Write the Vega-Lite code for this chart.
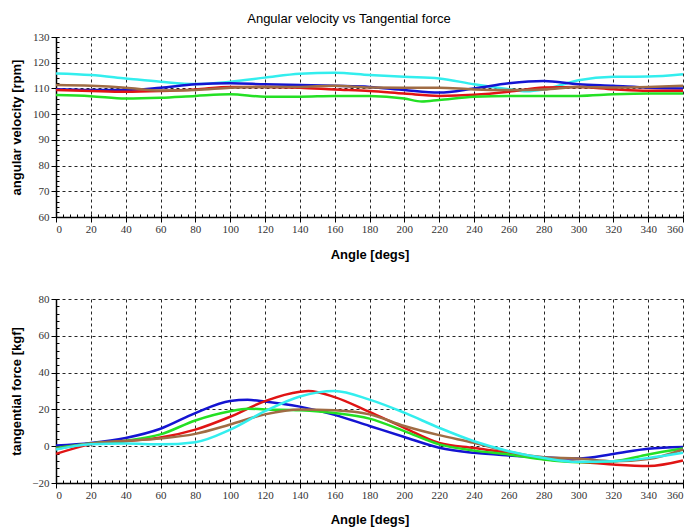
{
  "$schema": "https://vega.github.io/schema/vega-lite/v6.json",
  "padding": {"left": 10, "top": 13, "right": 8, "bottom": 2},
  "background": "white",
  "title": {"text": "Angular velocity vs Tangential force", "font": "Liberation Sans", "fontSize": 13, "fontWeight": "normal", "color": "black", "offset": 5, "anchor": "middle"},
  "spacing": 32,
  "datasets": {
    "vel": [
      {"angle":0,"series":"cyan","v":115.8},{"angle":20,"series":"cyan","v":115.2},{"angle":40,"series":"cyan","v":113.9},{"angle":60,"series":"cyan","v":112.6},{"angle":80,"series":"cyan","v":111.7},{"angle":100,"series":"cyan","v":112.6},{"angle":120,"series":"cyan","v":114.2},{"angle":140,"series":"cyan","v":115.7},{"angle":160,"series":"cyan","v":116.1},{"angle":180,"series":"cyan","v":115.2},{"angle":200,"series":"cyan","v":114.5},{"angle":220,"series":"cyan","v":113.9},{"angle":240,"series":"cyan","v":111.6},{"angle":260,"series":"cyan","v":109.7},{"angle":270,"series":"cyan","v":108.9},{"angle":280,"series":"cyan","v":109.6},{"angle":300,"series":"cyan","v":113.2},{"angle":320,"series":"cyan","v":114.5},{"angle":340,"series":"cyan","v":114.6},{"angle":360,"series":"cyan","v":115.5},
      {"angle":0,"series":"blue","v":109.7},{"angle":20,"series":"blue","v":109.4},{"angle":40,"series":"blue","v":109.4},{"angle":60,"series":"blue","v":110.3},{"angle":80,"series":"blue","v":111.6},{"angle":100,"series":"blue","v":112},{"angle":120,"series":"blue","v":111.6},{"angle":140,"series":"blue","v":111.3},{"angle":160,"series":"blue","v":111},{"angle":180,"series":"blue","v":110.6},{"angle":200,"series":"blue","v":109.4},{"angle":220,"series":"blue","v":108.4},{"angle":240,"series":"blue","v":110},{"angle":260,"series":"blue","v":112},{"angle":280,"series":"blue","v":112.9},{"angle":300,"series":"blue","v":111.6},{"angle":320,"series":"blue","v":111},{"angle":340,"series":"blue","v":110.3},{"angle":360,"series":"blue","v":110},
      {"angle":0,"series":"red","v":109.4},{"angle":20,"series":"red","v":109},{"angle":40,"series":"red","v":108.7},{"angle":60,"series":"red","v":109},{"angle":80,"series":"red","v":109.6},{"angle":100,"series":"red","v":110.6},{"angle":120,"series":"red","v":110.6},{"angle":140,"series":"red","v":110.3},{"angle":160,"series":"red","v":109.6},{"angle":180,"series":"red","v":109},{"angle":200,"series":"red","v":108},{"angle":220,"series":"red","v":107.1},{"angle":240,"series":"red","v":107.5},{"angle":260,"series":"red","v":108.7},{"angle":280,"series":"red","v":110.4},{"angle":300,"series":"red","v":110.6},{"angle":320,"series":"red","v":109.7},{"angle":340,"series":"red","v":109.1},{"angle":360,"series":"red","v":109.1},
      {"angle":0,"series":"brown","v":111.3},{"angle":20,"series":"brown","v":111},{"angle":40,"series":"brown","v":110.3},{"angle":60,"series":"brown","v":109.2},{"angle":80,"series":"brown","v":109.4},{"angle":100,"series":"brown","v":110.3},{"angle":120,"series":"brown","v":110.6},{"angle":140,"series":"brown","v":110.6},{"angle":160,"series":"brown","v":111},{"angle":180,"series":"brown","v":110.4},{"angle":200,"series":"brown","v":110.3},{"angle":220,"series":"brown","v":110.3},{"angle":240,"series":"brown","v":109.6},{"angle":260,"series":"brown","v":109.4},{"angle":280,"series":"brown","v":109.6},{"angle":300,"series":"brown","v":110.6},{"angle":320,"series":"brown","v":110.4},{"angle":340,"series":"brown","v":110.6},{"angle":360,"series":"brown","v":111},
      {"angle":0,"series":"green","v":107.4},{"angle":20,"series":"green","v":107},{"angle":40,"series":"green","v":106.1},{"angle":60,"series":"green","v":106.4},{"angle":80,"series":"green","v":107.1},{"angle":100,"series":"green","v":107.7},{"angle":120,"series":"green","v":106.8},{"angle":140,"series":"green","v":106.8},{"angle":160,"series":"green","v":107.1},{"angle":180,"series":"green","v":107.1},{"angle":200,"series":"green","v":106.1},{"angle":210,"series":"green","v":104.9},{"angle":220,"series":"green","v":105.5},{"angle":240,"series":"green","v":106.8},{"angle":260,"series":"green","v":107.1},{"angle":280,"series":"green","v":107.1},{"angle":300,"series":"green","v":107.1},{"angle":320,"series":"green","v":107.7},{"angle":340,"series":"green","v":108},{"angle":360,"series":"green","v":108}
    ],
    "force": [
      {"angle":0,"series":"blue","v":0.4},{"angle":20,"series":"blue","v":1.8},{"angle":40,"series":"blue","v":4.5},{"angle":60,"series":"blue","v":9.5},{"angle":80,"series":"blue","v":18},{"angle":100,"series":"blue","v":24.6},{"angle":110,"series":"blue","v":25.2},{"angle":120,"series":"blue","v":24.3},{"angle":140,"series":"blue","v":21.5},{"angle":160,"series":"blue","v":17},{"angle":180,"series":"blue","v":11},{"angle":200,"series":"blue","v":5},{"angle":220,"series":"blue","v":-0.8},{"angle":240,"series":"blue","v":-3.6},{"angle":260,"series":"blue","v":-5},{"angle":280,"series":"blue","v":-6},{"angle":300,"series":"blue","v":-6.7},{"angle":320,"series":"blue","v":-4.2},{"angle":340,"series":"blue","v":-1.4},{"angle":360,"series":"blue","v":-0.4},
      {"angle":0,"series":"red","v":-4.2},{"angle":20,"series":"red","v":1},{"angle":40,"series":"red","v":2.7},{"angle":60,"series":"red","v":4.7},{"angle":80,"series":"red","v":9},{"angle":100,"series":"red","v":16},{"angle":120,"series":"red","v":24.5},{"angle":140,"series":"red","v":29.6},{"angle":145,"series":"red","v":30},{"angle":160,"series":"red","v":26.7},{"angle":180,"series":"red","v":18.6},{"angle":200,"series":"red","v":10},{"angle":220,"series":"red","v":1.8},{"angle":240,"series":"red","v":-1},{"angle":260,"series":"red","v":-3.6},{"angle":280,"series":"red","v":-7},{"angle":300,"series":"red","v":-8.5},{"angle":320,"series":"red","v":-10},{"angle":340,"series":"red","v":-10.8},{"angle":360,"series":"red","v":-7.8},
      {"angle":0,"series":"green","v":-1},{"angle":20,"series":"green","v":1.5},{"angle":40,"series":"green","v":3},{"angle":60,"series":"green","v":6.4},{"angle":80,"series":"green","v":14},{"angle":100,"series":"green","v":19},{"angle":110,"series":"green","v":20.4},{"angle":120,"series":"green","v":20},{"angle":140,"series":"green","v":19.5},{"angle":160,"series":"green","v":18},{"angle":180,"series":"green","v":15},{"angle":200,"series":"green","v":8.2},{"angle":220,"series":"green","v":1},{"angle":240,"series":"green","v":-2.4},{"angle":260,"series":"green","v":-4.5},{"angle":280,"series":"green","v":-7.3},{"angle":300,"series":"green","v":-8.7},{"angle":320,"series":"green","v":-8.2},{"angle":340,"series":"green","v":-4.5},{"angle":360,"series":"green","v":-1.3},
      {"angle":0,"series":"brown","v":-1.5},{"angle":20,"series":"brown","v":1.5},{"angle":40,"series":"brown","v":3},{"angle":60,"series":"brown","v":4.2},{"angle":80,"series":"brown","v":6.7},{"angle":100,"series":"brown","v":11.8},{"angle":120,"series":"brown","v":17.3},{"angle":140,"series":"brown","v":20},{"angle":160,"series":"brown","v":19.5},{"angle":180,"series":"brown","v":17.3},{"angle":200,"series":"brown","v":11},{"angle":220,"series":"brown","v":6},{"angle":240,"series":"brown","v":1.8},{"angle":260,"series":"brown","v":-3},{"angle":280,"series":"brown","v":-6},{"angle":300,"series":"brown","v":-6.7},{"angle":320,"series":"brown","v":-8.2},{"angle":340,"series":"brown","v":-7},{"angle":360,"series":"brown","v":-1.8},
      {"angle":0,"series":"cyan","v":-1.8},{"angle":20,"series":"cyan","v":1},{"angle":40,"series":"cyan","v":1.5},{"angle":60,"series":"cyan","v":1},{"angle":80,"series":"cyan","v":2.2},{"angle":100,"series":"cyan","v":9},{"angle":120,"series":"cyan","v":19},{"angle":140,"series":"cyan","v":27},{"angle":160,"series":"cyan","v":30},{"angle":180,"series":"cyan","v":25.3},{"angle":200,"series":"cyan","v":18.2},{"angle":220,"series":"cyan","v":10},{"angle":240,"series":"cyan","v":2.7},{"angle":260,"series":"cyan","v":-2.7},{"angle":280,"series":"cyan","v":-6.4},{"angle":300,"series":"cyan","v":-8.5},{"angle":320,"series":"cyan","v":-8.2},{"angle":340,"series":"cyan","v":-6.4},{"angle":360,"series":"cyan","v":-3.6}
    ]
  },
  "vconcat": [
    {
      "width": 627, "height": 180,
      "data": {"name": "vel"},
      "layer": [
        {
          "mark": {"type": "line", "strokeOpacity": 0},
          "encoding": {
            "x": {"field": "angle", "type": "quantitative", "scale": {"domain": [0, 360], "nice": false, "zero": false},
                  "axis": {"orient": "bottom", "title": null, "labels": false, "grid": false, "domain": false, "tickSize": -3,
                           "values": [0,4,8,12,16,20,24,28,32,36,40,44,48,52,56,60,64,68,72,76,80,84,88,92,96,100,104,108,112,116,120,124,128,132,136,140,144,148,152,156,160,164,168,172,176,180,184,188,192,196,200,204,208,212,216,220,224,228,232,236,240,244,248,252,256,260,264,268,272,276,280,284,288,292,296,300,304,308,312,316,320,324,328,332,336,340,344,348,352,356,360]}},
            "y": {"field": "v", "type": "quantitative", "scale": {"domain": [60, 130], "nice": false, "zero": false},
                  "axis": {"orient": "left", "title": null, "labels": false, "grid": false, "domain": false, "tickSize": -3,
                           "values": [60,62,64,66,68,70,72,74,76,78,80,82,84,86,88,90,92,94,96,98,100,102,104,106,108,110,112,114,116,118,120,122,124,126,128,130]}},
            "color": {"field": "series", "type": "nominal", "legend": null,
                      "scale": {"domain": ["blue","red","green","brown","cyan"], "range": ["#1414d2","#e01414","#24e024","#a06c44","#33eeee"]}}
          }
        },
        {
          "mark": {"type": "line", "strokeWidth": 2.5, "interpolate": "monotone"},
          "encoding": {
            "x": {"field": "angle", "type": "quantitative", "scale": {"domain": [0, 360], "nice": false, "zero": false},
                  "axis": {"orient": "bottom", "title": "Angle [degs]", "grid": true, "values": [0,20,40,60,80,100,120,140,160,180,200,220,240,260,280,300,320,340,360], "tickSize": 5, "labelPadding": 1, "titlePadding": 14}},
            "y": {"field": "v", "type": "quantitative", "scale": {"domain": [60, 130], "nice": false, "zero": false},
                  "axis": {"orient": "left", "title": "angular velocity [rpm]", "grid": true, "values": [60,70,80,90,100,110,120,130], "tickSize": 5, "labelPadding": 2, "minExtent": 26, "maxExtent": 26, "titlePadding": 7}},
            "color": {"field": "series", "type": "nominal", "legend": null,
                      "scale": {"domain": ["blue","red","green","brown","cyan"], "range": ["#1414d2","#e01414","#24e024","#a06c44","#33eeee"]}}
          }
        }
      ],
      "resolve": {"axis": {"x": "independent", "y": "independent"}}
    },
    {
      "width": 627, "height": 184,
      "data": {"name": "force"},
      "layer": [
        {
          "mark": {"type": "line", "strokeOpacity": 0},
          "encoding": {
            "x": {"field": "angle", "type": "quantitative", "scale": {"domain": [0, 360], "nice": false, "zero": false},
                  "axis": {"orient": "bottom", "title": null, "labels": false, "grid": false, "domain": false, "tickSize": -3,
                           "values": [0,4,8,12,16,20,24,28,32,36,40,44,48,52,56,60,64,68,72,76,80,84,88,92,96,100,104,108,112,116,120,124,128,132,136,140,144,148,152,156,160,164,168,172,176,180,184,188,192,196,200,204,208,212,216,220,224,228,232,236,240,244,248,252,256,260,264,268,272,276,280,284,288,292,296,300,304,308,312,316,320,324,328,332,336,340,344,348,352,356,360]}},
            "y": {"field": "v", "type": "quantitative", "scale": {"domain": [-20, 80], "nice": false, "zero": false},
                  "axis": {"orient": "left", "title": null, "labels": false, "grid": false, "domain": false, "tickSize": -3,
                           "values": [-20,-16,-12,-8,-4,0,4,8,12,16,20,24,28,32,36,40,44,48,52,56,60,64,68,72,76,80]}},
            "color": {"field": "series", "type": "nominal", "legend": null,
                      "scale": {"domain": ["blue","red","green","brown","cyan"], "range": ["#1414d2","#e01414","#24e024","#a06c44","#33eeee"]}}
          }
        },
        {
          "mark": {"type": "line", "strokeWidth": 2.5, "interpolate": "monotone"},
          "encoding": {
            "x": {"field": "angle", "type": "quantitative", "scale": {"domain": [0, 360], "nice": false, "zero": false},
                  "axis": {"orient": "bottom", "title": "Angle [degs]", "grid": true, "values": [0,20,40,60,80,100,120,140,160,180,200,220,240,260,280,300,320,340,360], "tickSize": 5, "labelPadding": 1, "titlePadding": 13}},
            "y": {"field": "v", "type": "quantitative", "scale": {"domain": [-20, 80], "nice": false, "zero": false},
                  "axis": {"orient": "left", "title": "tangential force [kgf]", "grid": true, "values": [-20,0,20,40,60,80], "tickSize": 5, "labelPadding": 2, "minExtent": 26, "maxExtent": 26, "titlePadding": 7}},
            "color": {"field": "series", "type": "nominal", "legend": null,
                      "scale": {"domain": ["blue","red","green","brown","cyan"], "range": ["#1414d2","#e01414","#24e024","#a06c44","#33eeee"]}}
          }
        }
      ],
      "resolve": {"axis": {"x": "independent", "y": "independent"}}
    }
  ],
  "config": {
    "view": {"stroke": null},
    "axis": {
      "domainColor": "black", "domainWidth": 1.5, "tickColor": "black", "tickWidth": 1,
      "gridColor": "black", "gridDash": [3, 3], "gridOpacity": 0.85, "gridWidth": 1,
      "labelFont": "Liberation Sans Narrow", "labelFontSize": 11, "labelColor": "#333333",
      "titleFont": "Liberation Sans", "titleFontSize": 13, "titleFontWeight": "bold", "titleColor": "black"
    }
  }
}
